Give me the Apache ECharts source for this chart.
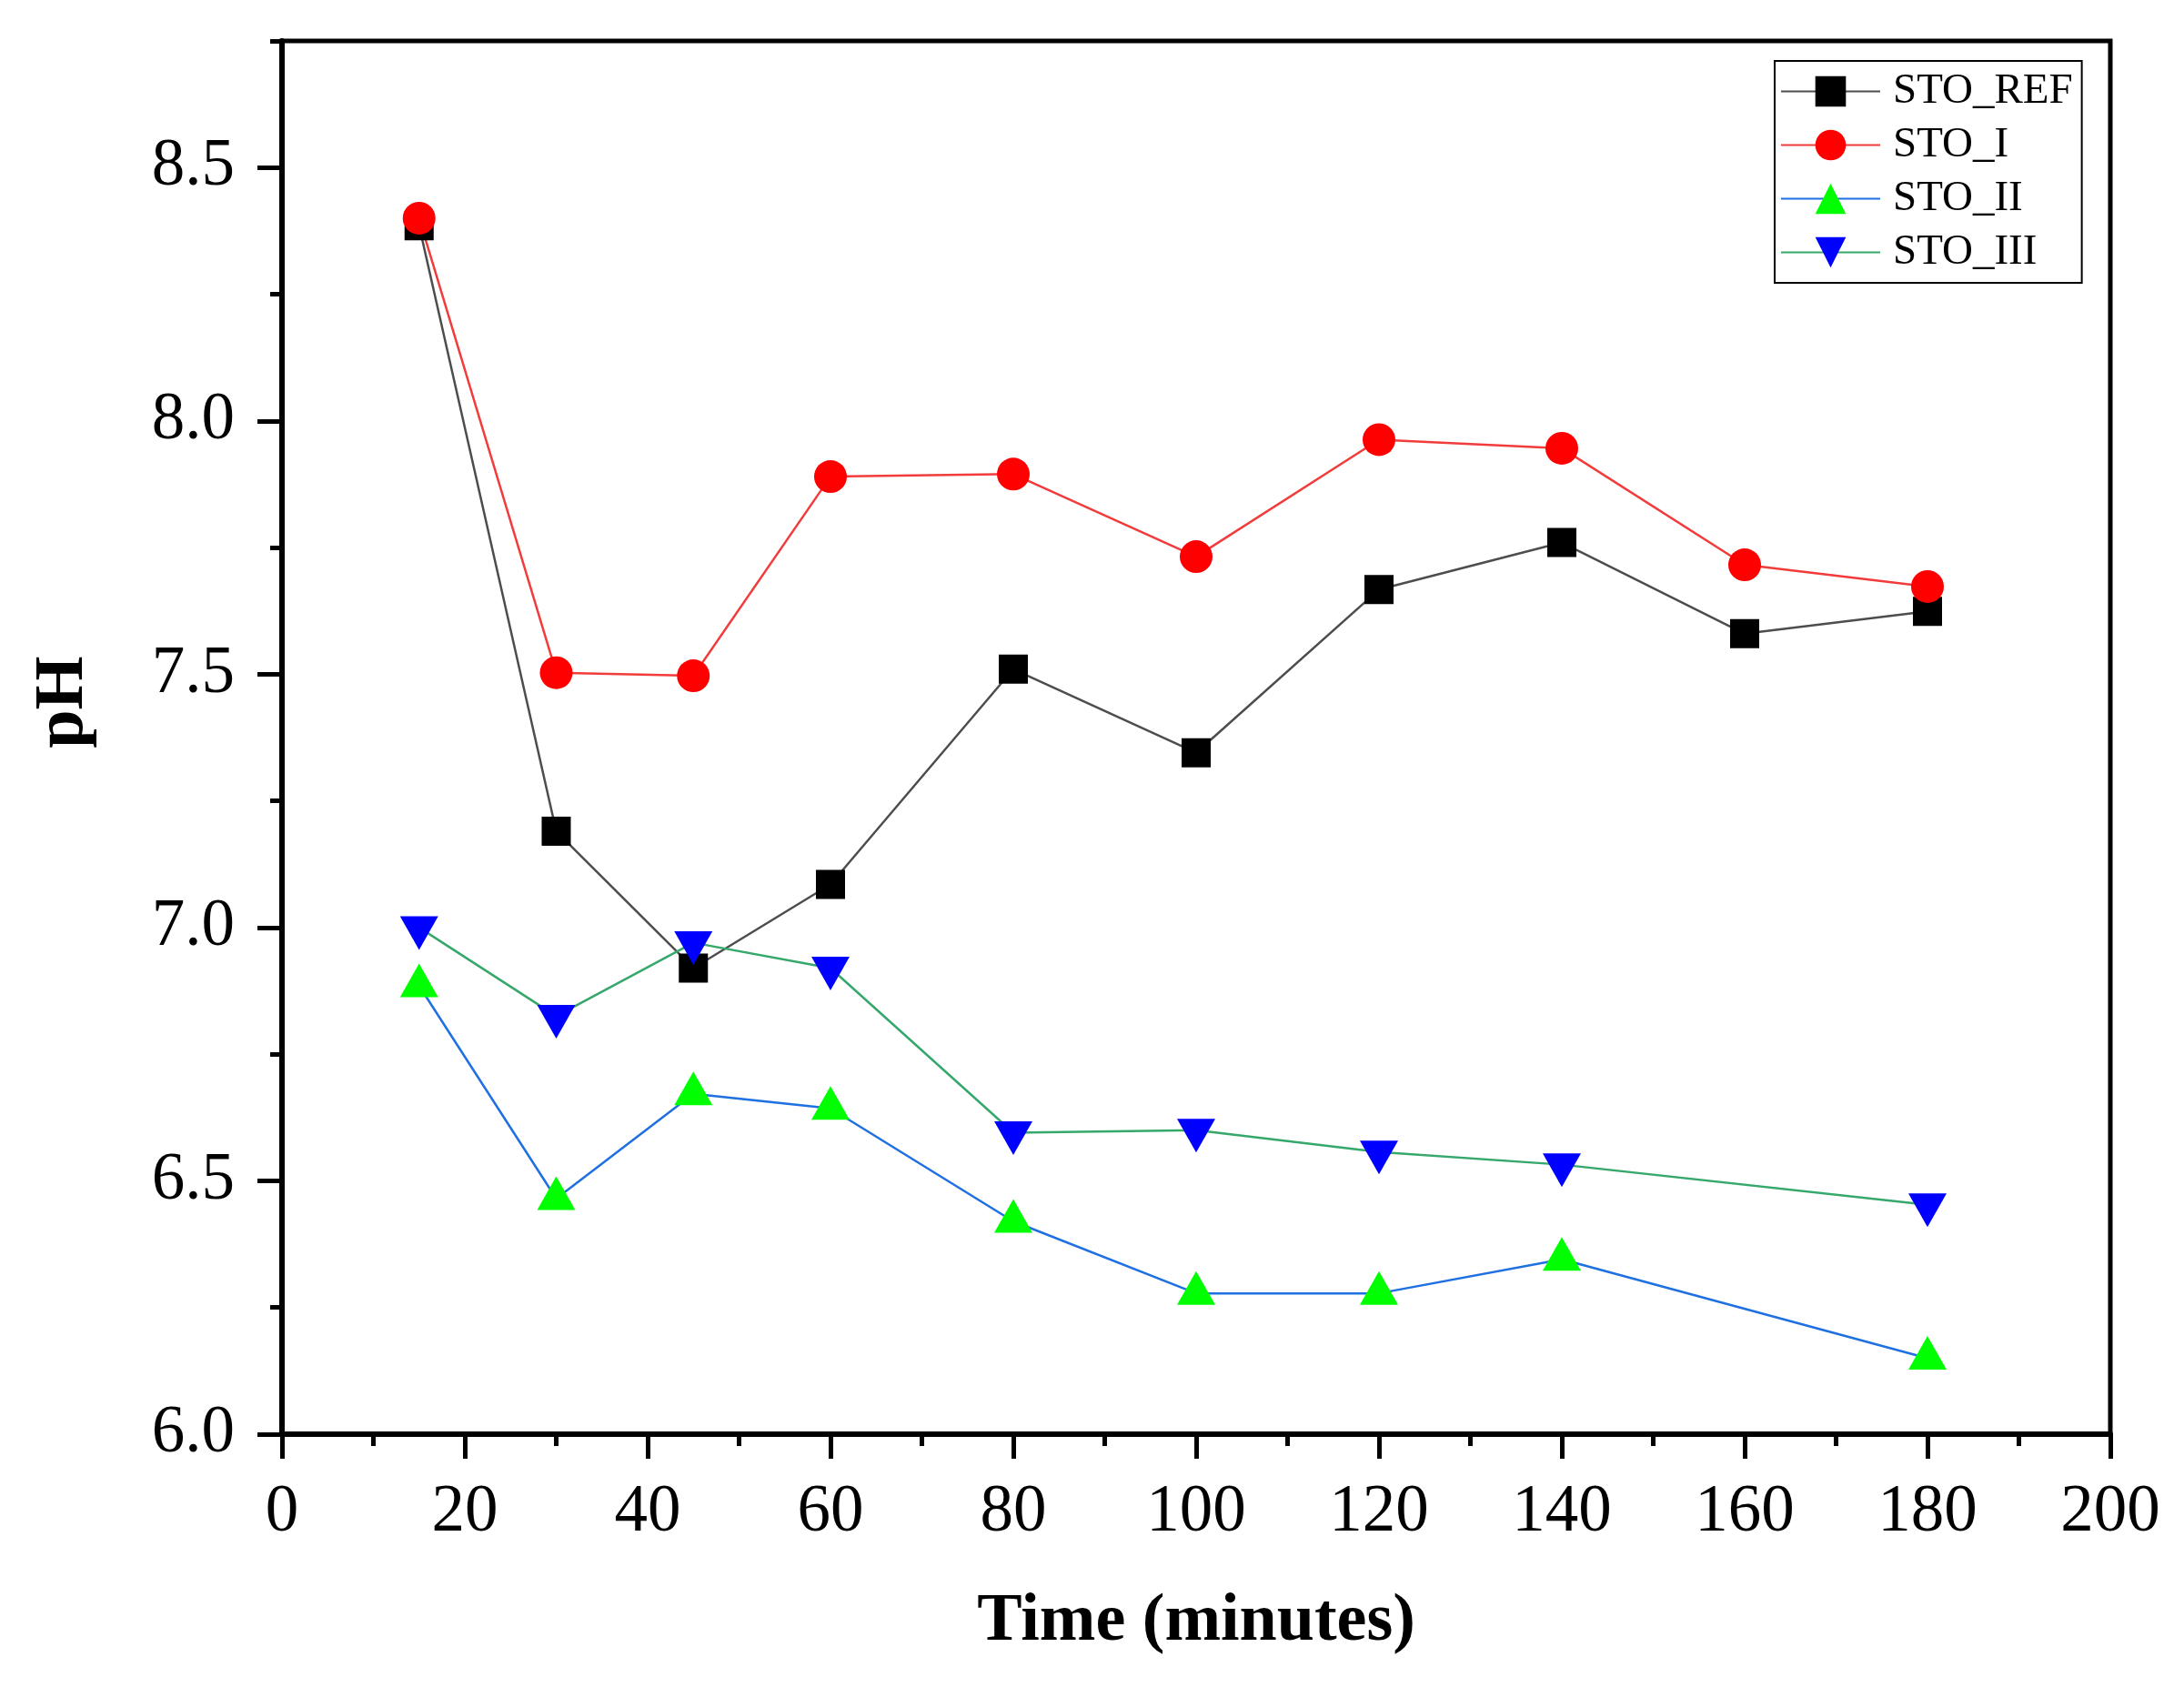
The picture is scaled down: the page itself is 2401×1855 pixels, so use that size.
<!DOCTYPE html>
<html lang="en">
<head>
    <meta charset="UTF-8">
    <title>pH vs time</title>
    <script type="text/javascript" src="https://cdn.jsdelivr.net/npm/echarts@6/dist/echarts.min.js"></script>
    <style>
        html, body { margin: 0; padding: 0; background: #fff; }
        #chart { width: 2401px; height: 1855px; }
    </style>
</head>
<body>
<div id="chart"></div>
<script type="text/javascript">

    // time points (minutes)
    var timeA = [15, 30, 45, 60, 80, 100, 120, 140, 160, 180];
    var timeB = [15, 30, 45, 60, 80, 100, 120, 140, 180];

    // pH values
    var stoRef = [8.385, 7.19, 6.92, 7.085, 7.51, 7.345, 7.667, 7.76, 7.58, 7.624];
    var stoI   = [8.40, 7.503, 7.497, 7.89, 7.895, 7.732, 7.963, 7.946, 7.716, 7.673];
    var stoII  = [6.885, 6.465, 6.672, 6.643, 6.42, 6.278, 6.278, 6.345, 6.15];
    var stoIII = [7.00, 6.825, 6.97, 6.92, 6.595, 6.60, 6.557, 6.532, 6.453];

    var yTicks = [6.0, 6.5, 7.0, 7.5, 8.0, 8.5];

    var FONT = '"Liberation Serif", "Times New Roman", serif';

    function pairs(xs, ys) {
        var out = [];
        for (var i = 0; i < xs.length; i++) {
            out.push([xs[i], ys[i]]);
        }
        return out;
    }

    function makeSeries(name, xs, ys, symbol, size, offset, markColor, lineColor) {
        return {
            name: name,
            type: 'line',
            data: pairs(xs, ys),
            symbol: symbol,
            symbolSize: size,
            symbolOffset: offset,
            showAllSymbol: true,
            itemStyle: { color: markColor, borderWidth: 0 },
            lineStyle: { color: lineColor, width: 2.5 },
            emphasis: { disabled: true },
            animation: false
        };
    }

    var myChart = echarts.init(document.getElementById('chart'));

    var option = {
        backgroundColor: '#ffffff',
        animation: false,
        grid: {
            left: 310,
            right: 81,
            top: 45,
            bottom: 278,
            show: true,
            borderColor: '#000',
            borderWidth: 5,
            backgroundColor: 'transparent'
        },
        legend: {
            orient: 'vertical',
            left: 1951,
            top: 67,
            padding: [10, 10, 10, 6],
            itemWidth: 109,
            itemHeight: 42,
            itemGap: 12,
            borderColor: '#000',
            borderWidth: 2,
            textStyle: {
                fontFamily: FONT,
                fontSize: 47,
                color: '#000',
                padding: [0, 0, 0, 9]
            },
            data: ['STO_REF', 'STO_I', 'STO_II', 'STO_III']
        },
        xAxis: {
            type: 'value',
            min: 0,
            max: 200,
            interval: 20,
            name: 'Time (minutes)',
            nameLocation: 'middle',
            nameGap: 170,
            nameTextStyle: {
                fontFamily: FONT,
                fontSize: 74,
                fontWeight: 'bold',
                color: '#000'
            },
            axisLine: { show: true, lineStyle: { color: '#000', width: 6 } },
            axisTick: { show: true, inside: false, length: 27, lineStyle: { color: '#000', width: 5 } },
            minorTick: { show: true, splitNumber: 2, length: 13, lineStyle: { color: '#000', width: 5 } },
            axisLabel: {
                fontFamily: FONT,
                fontSize: 73,
                color: '#000',
                margin: 50
            },
            splitLine: { show: false }
        },
        yAxis: [
            {
                type: 'value',
                position: 'left',
                min: 6,
                max: 8.75,
                interval: 0.25,
                name: 'pH',
                nameLocation: 'middle',
                nameGap: 202,
                nameTextStyle: {
                    fontFamily: FONT,
                    fontSize: 76,
                    fontWeight: 'bold',
                    color: '#000',
                    padding: [0, 0, 0, 78]
                },
                axisLine: { show: true, lineStyle: { color: '#000', width: 6 } },
                axisTick: { show: true, inside: false, length: 13, lineStyle: { color: '#000', width: 5 } },
                axisLabel: {
                    fontFamily: FONT,
                    fontSize: 73,
                    color: '#000',
                    margin: 52,
                    customValues: yTicks,
                    formatter: function (v) { return v.toFixed(1); }
                },
                splitLine: { show: false }
            },
            {
                type: 'value',
                position: 'left',
                min: 6,
                max: 8.75,
                interval: 0.25,
                axisLine: { show: false },
                axisTick: {
                    show: true,
                    inside: false,
                    length: 27,
                    customValues: yTicks,
                    lineStyle: { color: '#000', width: 5 }
                },
                axisLabel: { show: false },
                splitLine: { show: false }
            }
        ],
        series: [
            makeSeries('STO_REF', timeA, stoRef, 'rect', 32, [0, 0], '#000000', '#4d4d4d'),
            makeSeries('STO_I', timeA, stoI, 'circle', 36, [0, 0], '#ff0000', '#f23c3c'),
            makeSeries('STO_II', timeB, stoII, 'triangle', [42, 37], [0, -6], '#00ff00', '#1f70e0'),
            makeSeries('STO_III', timeB, stoIII, 'path://M0,0L2,0L1,2Z', [42, 37], [0, 6], '#0000ff', '#36a86b')
        ]
    };

    myChart.setOption(option);

</script>
</body>
</html>
